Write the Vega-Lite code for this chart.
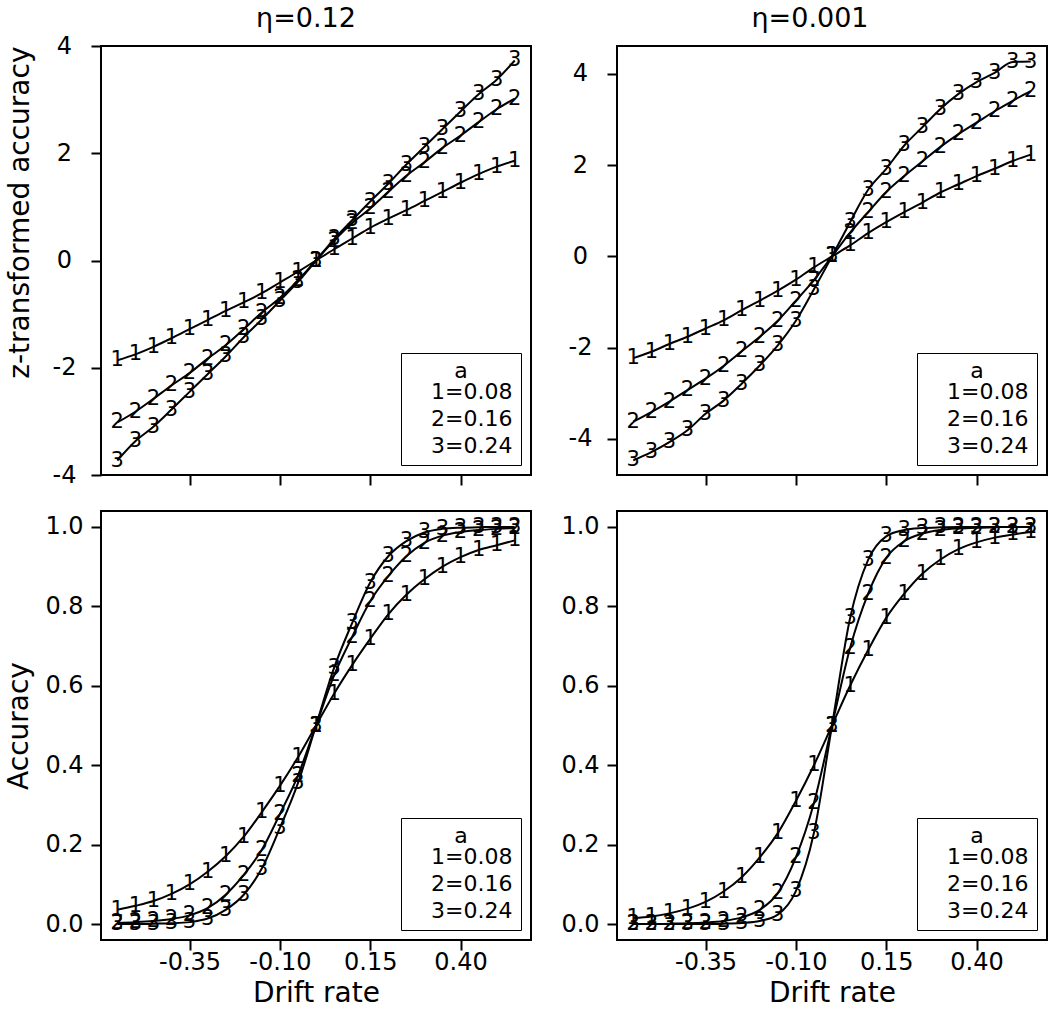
{
  "$schema": "https://vega.github.io/schema/vega-lite/v6.json",
  "background": "white",
  "padding": {"left": 4, "top": 4, "right": 5, "bottom": 2},
  "datasets": {
    "zA": [
      {"v": -0.55, "1": -1.86, "2": -3.02, "3": -3.73},
      {"v": -0.5, "1": -1.75, "2": -2.82, "3": -3.37},
      {"v": -0.45, "1": -1.61, "2": -2.58, "3": -3.10},
      {"v": -0.4, "1": -1.45, "2": -2.33, "3": -2.78},
      {"v": -0.35, "1": -1.28, "2": -2.10, "3": -2.45},
      {"v": -0.3, "1": -1.11, "2": -1.83, "3": -2.12},
      {"v": -0.25, "1": -0.94, "2": -1.58, "3": -1.79},
      {"v": -0.2, "1": -0.78, "2": -1.28, "3": -1.43},
      {"v": -0.15, "1": -0.61, "2": -0.97, "3": -1.10},
      {"v": -0.1, "1": -0.41, "2": -0.70, "3": -0.75},
      {"v": -0.05, "1": -0.21, "2": -0.37, "3": -0.40},
      {"v": 0, "1": 0, "2": 0, "3": 0},
      {"v": 0.05, "1": 0.21, "2": 0.37, "3": 0.40},
      {"v": 0.1, "1": 0.41, "2": 0.70, "3": 0.75},
      {"v": 0.15, "1": 0.61, "2": 0.97, "3": 1.10},
      {"v": 0.2, "1": 0.78, "2": 1.28, "3": 1.43},
      {"v": 0.25, "1": 0.94, "2": 1.58, "3": 1.79},
      {"v": 0.3, "1": 1.11, "2": 1.83, "3": 2.12},
      {"v": 0.35, "1": 1.28, "2": 2.10, "3": 2.45},
      {"v": 0.4, "1": 1.45, "2": 2.33, "3": 2.78},
      {"v": 0.45, "1": 1.61, "2": 2.58, "3": 3.10},
      {"v": 0.5, "1": 1.75, "2": 2.82, "3": 3.37},
      {"v": 0.55, "1": 1.86, "2": 3.02, "3": 3.73}
    ],
    "zB": [
      {"v": -0.55, "1": -2.23, "2": -3.62, "3": -4.47},
      {"v": -0.5, "1": -2.09, "2": -3.41, "3": -4.29},
      {"v": -0.45, "1": -1.92, "2": -3.18, "3": -4.07},
      {"v": -0.4, "1": -1.76, "2": -2.93, "3": -3.81},
      {"v": -0.35, "1": -1.58, "2": -2.68, "3": -3.45},
      {"v": -0.3, "1": -1.40, "2": -2.40, "3": -3.16},
      {"v": -0.25, "1": -1.18, "2": -2.08, "3": -2.79},
      {"v": -0.2, "1": -0.97, "2": -1.76, "3": -2.39},
      {"v": -0.15, "1": -0.75, "2": -1.41, "3": -1.95},
      {"v": -0.1, "1": -0.51, "2": -0.97, "3": -1.41},
      {"v": -0.05, "1": -0.24, "2": -0.52, "3": -0.72},
      {"v": 0, "1": 0, "2": 0, "3": 0},
      {"v": 0.05, "1": 0.24, "2": 0.52, "3": 0.75},
      {"v": 0.1, "1": 0.51, "2": 0.97, "3": 1.46},
      {"v": 0.15, "1": 0.75, "2": 1.41, "3": 1.92},
      {"v": 0.2, "1": 0.97, "2": 1.76, "3": 2.43},
      {"v": 0.25, "1": 1.18, "2": 2.08, "3": 2.83},
      {"v": 0.3, "1": 1.40, "2": 2.40, "3": 3.23},
      {"v": 0.35, "1": 1.58, "2": 2.68, "3": 3.56},
      {"v": 0.4, "1": 1.76, "2": 2.93, "3": 3.82},
      {"v": 0.45, "1": 1.92, "2": 3.18, "3": 4.02},
      {"v": 0.5, "1": 2.09, "2": 3.41, "3": 4.26},
      {"v": 0.55, "1": 2.23, "2": 3.62, "3": 4.27}
    ],
    "pC": [
      {"v": -0.55, "1": 0.036, "2": 0.003, "3": 0.0},
      {"v": -0.5, "1": 0.046, "2": 0.005, "3": 0.0},
      {"v": -0.45, "1": 0.058, "2": 0.008, "3": 0.001},
      {"v": -0.4, "1": 0.076, "2": 0.013, "3": 0.002},
      {"v": -0.35, "1": 0.10, "2": 0.022, "3": 0.005},
      {"v": -0.3, "1": 0.132, "2": 0.04, "3": 0.014},
      {"v": -0.25, "1": 0.171, "2": 0.074, "3": 0.036},
      {"v": -0.2, "1": 0.22, "2": 0.124, "3": 0.074},
      {"v": -0.15, "1": 0.282, "2": 0.187, "3": 0.14},
      {"v": -0.1, "1": 0.348, "2": 0.277, "3": 0.242},
      {"v": -0.05, "1": 0.42, "2": 0.374, "3": 0.355},
      {"v": 0, "1": 0.5, "2": 0.5, "3": 0.5},
      {"v": 0.05, "1": 0.58, "2": 0.626, "3": 0.645},
      {"v": 0.1, "1": 0.652, "2": 0.723, "3": 0.758},
      {"v": 0.15, "1": 0.718, "2": 0.813, "3": 0.86},
      {"v": 0.2, "1": 0.78, "2": 0.876, "3": 0.926},
      {"v": 0.25, "1": 0.829, "2": 0.926, "3": 0.964},
      {"v": 0.3, "1": 0.868, "2": 0.96, "3": 0.986},
      {"v": 0.35, "1": 0.90, "2": 0.978, "3": 0.995},
      {"v": 0.4, "1": 0.924, "2": 0.987, "3": 0.998},
      {"v": 0.45, "1": 0.942, "2": 0.992, "3": 0.999},
      {"v": 0.5, "1": 0.954, "2": 0.995, "3": 1.0},
      {"v": 0.55, "1": 0.966, "2": 0.997, "3": 1.0}
    ],
    "pD": [
      {"v": -0.55, "1": 0.015, "2": 0.0, "3": 0.0},
      {"v": -0.5, "1": 0.019, "2": 0.0, "3": 0.0},
      {"v": -0.45, "1": 0.027, "2": 0.001, "3": 0.0},
      {"v": -0.4, "1": 0.039, "2": 0.002, "3": 0.0},
      {"v": -0.35, "1": 0.056, "2": 0.004, "3": 0.0},
      {"v": -0.3, "1": 0.082, "2": 0.008, "3": 0.001},
      {"v": -0.25, "1": 0.118, "2": 0.017, "3": 0.003},
      {"v": -0.2, "1": 0.168, "2": 0.036, "3": 0.008},
      {"v": -0.15, "1": 0.229, "2": 0.078, "3": 0.024},
      {"v": -0.1, "1": 0.31, "2": 0.168, "3": 0.083},
      {"v": -0.05, "1": 0.4, "2": 0.305, "3": 0.23},
      {"v": 0, "1": 0.5, "2": 0.5, "3": 0.5},
      {"v": 0.05, "1": 0.6, "2": 0.695, "3": 0.77},
      {"v": 0.1, "1": 0.69, "2": 0.832, "3": 0.917},
      {"v": 0.15, "1": 0.771, "2": 0.922, "3": 0.976},
      {"v": 0.2, "1": 0.832, "2": 0.964, "3": 0.992},
      {"v": 0.25, "1": 0.882, "2": 0.983, "3": 0.997},
      {"v": 0.3, "1": 0.918, "2": 0.992, "3": 0.999},
      {"v": 0.35, "1": 0.944, "2": 0.996, "3": 1.0},
      {"v": 0.4, "1": 0.961, "2": 0.998, "3": 1.0},
      {"v": 0.45, "1": 0.973, "2": 0.999, "3": 1.0},
      {"v": 0.5, "1": 0.981, "2": 1.0, "3": 1.0},
      {"v": 0.55, "1": 0.987, "2": 1.0, "3": 1.0}
    ]
  },
  "columns": 2,
  "spacing": {"row": 36, "column": 86},
  "bounds": "flush",
  "resolve": {"scale": {"color": "independent"}, "legend": {"color": "independent"}},
  "concat": [
    {
      "width": 430, "height": 429,
      "title": {"text": "η=0.12", "offset": 1, "dx": -10},
      "data": {"name": "zA"},
      "transform": [{"fold": ["1", "2", "3"], "as": ["s", "y"]}],
      "encoding": {
        "x": {"field": "v", "type": "quantitative", "scale": {"domain": [-0.595, 0.595], "nice": false, "zero": false},
              "axis": {"values": [-0.35, -0.1, 0.15, 0.4], "labels": false, "title": null}},
        "y": {"field": "y", "type": "quantitative", "scale": {"domain": [-4, 4], "nice": false, "zero": false},
              "axis": {"values": [-4, -2, 0, 2, 4], "title": "z-transformed accuracy", "titlePadding": 18, "titleAnchor": "end", "labelExpr": "replace(format(datum.value, 'd'), '−', '-')"}},
        "color": {"field": "s", "type": "nominal", "scale": {"range": ["black", "black", "black"]},
                  "legend": {"title": "a", "labelExpr": "datum.label == '1' ? '1=0.08' : datum.label == '2' ? '2=0.16' : '3=0.24'"}}
      },
      "layer": [
        {"mark": {"type": "line", "interpolate": "monotone", "strokeWidth": 2}},
        {"mark": {"type": "text", "fontSize": 21, "align": "center", "baseline": "middle"}, "encoding": {"text": {"field": "s"}}}
      ]
    },
    {
      "width": 430, "height": 429,
      "title": {"text": "η=0.001", "offset": 13, "dx": -22},
      "data": {"name": "zB"},
      "transform": [{"fold": ["1", "2", "3"], "as": ["s", "y"]}],
      "encoding": {
        "x": {"field": "v", "type": "quantitative", "scale": {"domain": [-0.595, 0.595], "nice": false, "zero": false},
              "axis": {"values": [-0.35, -0.1, 0.15, 0.4], "labels": false, "title": null}},
        "y": {"field": "y", "type": "quantitative", "scale": {"domain": [-4.79, 4.61], "nice": false, "zero": false},
              "axis": {"values": [-4, -2, 0, 2, 4], "title": null, "labelExpr": "replace(format(datum.value, 'd'), '−', '-')"}},
        "color": {"field": "s", "type": "nominal", "scale": {"range": ["black", "black", "black"]},
                  "legend": {"title": "a", "labelExpr": "datum.label == '1' ? '1=0.08' : datum.label == '2' ? '2=0.16' : '3=0.24'"}}
      },
      "layer": [
        {"mark": {"type": "line", "interpolate": "monotone", "strokeWidth": 2}},
        {"mark": {"type": "text", "fontSize": 21, "align": "center", "baseline": "middle"}, "encoding": {"text": {"field": "s"}}}
      ]
    },
    {
      "width": 430, "height": 429,
      "data": {"name": "pC"},
      "transform": [{"fold": ["1", "2", "3"], "as": ["s", "y"]}],
      "encoding": {
        "x": {"field": "v", "type": "quantitative", "scale": {"domain": [-0.595, 0.595], "nice": false, "zero": false},
              "axis": {"values": [-0.35, -0.1, 0.15, 0.4], "title": "Drift rate", "labelExpr": "replace(format(datum.value, '.2f'), '−', '-')"}},
        "y": {"field": "y", "type": "quantitative", "scale": {"domain": [-0.04, 1.04], "nice": false, "zero": false},
              "axis": {"values": [0, 0.2, 0.4, 0.6, 0.8, 1.0], "format": ".1f", "title": "Accuracy", "titlePadding": 11}},
        "color": {"field": "s", "type": "nominal", "scale": {"range": ["black", "black", "black"]},
                  "legend": {"title": "a", "labelExpr": "datum.label == '1' ? '1=0.08' : datum.label == '2' ? '2=0.16' : '3=0.24'"}}
      },
      "layer": [
        {"mark": {"type": "line", "interpolate": "monotone", "strokeWidth": 2}},
        {"mark": {"type": "text", "fontSize": 21, "align": "center", "baseline": "middle"}, "encoding": {"text": {"field": "s"}}}
      ]
    },
    {
      "width": 430, "height": 429,
      "data": {"name": "pD"},
      "transform": [{"fold": ["1", "2", "3"], "as": ["s", "y"]}],
      "encoding": {
        "x": {"field": "v", "type": "quantitative", "scale": {"domain": [-0.595, 0.595], "nice": false, "zero": false},
              "axis": {"values": [-0.35, -0.1, 0.15, 0.4], "title": "Drift rate", "labelExpr": "replace(format(datum.value, '.2f'), '−', '-')"}},
        "y": {"field": "y", "type": "quantitative", "scale": {"domain": [-0.04, 1.04], "nice": false, "zero": false},
              "axis": {"values": [0, 0.2, 0.4, 0.6, 0.8, 1.0], "format": ".1f", "title": null}},
        "color": {"field": "s", "type": "nominal", "scale": {"range": ["black", "black", "black"]},
                  "legend": {"title": "a", "labelExpr": "datum.label == '1' ? '1=0.08' : datum.label == '2' ? '2=0.16' : '3=0.24'"}}
      },
      "layer": [
        {"mark": {"type": "line", "interpolate": "monotone", "strokeWidth": 2}},
        {"mark": {"type": "text", "fontSize": 21, "align": "center", "baseline": "middle"}, "encoding": {"text": {"field": "s"}}}
      ]
    }
  ],
  "config": {
    "font": "DejaVu Sans",
    "view": {"stroke": "black", "strokeWidth": 2},
    "title": {"fontSize": 27, "fontWeight": "normal", "anchor": "middle", "color": "black", "font": "DejaVu Sans"},
    "axis": {
      "domain": false, "grid": false,
      "tickColor": "black", "tickWidth": 2, "tickSize": 10,
      "labelFont": "DejaVu Sans", "labelFontSize": 24, "labelColor": "black",
      "titleFont": "DejaVu Sans", "titleFontSize": 28, "titleFontWeight": "normal", "titleColor": "black"
    },
    "axisY": {"labelAlign": "center", "labelPadding": 27},
    "axisX": {"labelPadding": 0, "titlePadding": 5},
    "legend": {
      "orient": "bottom-right", "offset": 10,
      "strokeColor": "black", "fillColor": "white", "padding": 8,
      "symbolType": "circle", "symbolSize": 1, "symbolOpacity": 0, "symbolStrokeWidth": 0, "labelOffset": 0,
      "labelFont": "DejaVu Sans", "labelFontSize": 22, "labelColor": "black",
      "titleFont": "DejaVu Sans", "titleFontSize": 22, "titleFontWeight": "normal", "titleColor": "black",
      "titleAnchor": "middle", "titlePadding": -2, "rowPadding": 5
    }
  }
}
